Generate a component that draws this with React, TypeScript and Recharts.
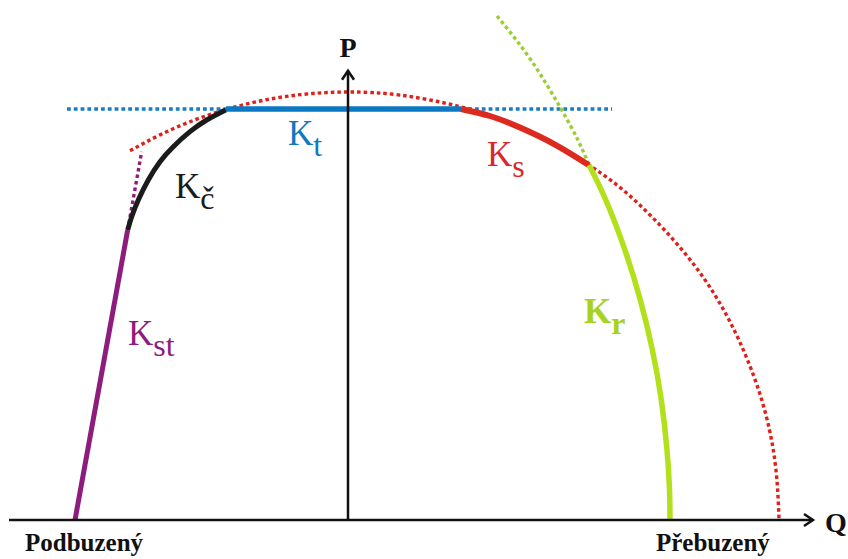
import React from 'react';
import { ComposedChart, Line, Scatter, XAxis, YAxis } from 'recharts';

// Units: Q (reactive power) horizontal, P (active power) vertical, arbitrary units
const Q_DOMAIN: [number, number] = [-87, 125];
const P_DOMAIN: [number, number] = [-9.75, 130];

// Red dotted stator-current circle
const statorCircle = [
  { q: -54.5, p: 92.3 },
  { q: -47, p: 96.28 },
  { q: -37, p: 100.5 },
  { q: -24.5, p: 104.2 },
  { q: -12, p: 106.33 },
  { q: 0, p: 107 },
  { q: 13, p: 106.23 },
  { q: 28, p: 103.33 },
  { q: 43, p: 98.1 },
  { q: 60.25, p: 88.7 },
  { q: 73, p: 78.7 },
  { q: 85.5, p: 65.1 },
  { q: 95.5, p: 49.55 },
  { q: 103, p: 31.43 },
  { q: 106.75, p: 14.55 },
  { q: 107.75, p: 0 },
];

// Ks – stator limit (solid red)
const statorLimit = [
  { q: 28.25, p: 102.75 },
  { q: 35.5, p: 101 },
  { q: 43, p: 98.1 },
  { q: 51.75, p: 93.85 },
  { q: 60.25, p: 88.7 },
];

// Kt – turbine limit (solid blue) and its dotted extension
const turbineLimit = [
  { q: -30.5, p: 102.75 },
  { q: 28.25, p: 102.75 },
];
const turbineLimitExt = [
  { q: -70.25, p: 102.75 },
  { q: 66, p: 102.75 },
];

// Kč – end-region heating limit (black)
const endRegionLimit = [
  { q: -30.58, p: 102.5 },
  { q: -35.33, p: 100 },
  { q: -39.5, p: 97.08 },
  { q: -43.68, p: 93.33 },
  { q: -47, p: 89.58 },
  { q: -49.93, p: 85 },
  { q: -52.43, p: 80 },
  { q: -54.08, p: 75.83 },
  { q: -55.08, p: 72.5 },
];

// Kst – stability limit (purple) and dotted extension
const stabilityLimit = [
  { q: -68.25, p: 0 },
  { q: -55.08, p: 72.5 },
];
const stabilityLimitExt = [
  { q: -55.08, p: 72.5 },
  { q: -51.58, p: 92.08 },
];

// Kr – rotor limit (green) and dotted extension
const rotorLimit = [
  { q: 60.25, p: 88.75 },
  { q: 64.45, p: 80 },
  { q: 69.23, p: 67.5 },
  { q: 73.08, p: 55 },
  { q: 76.1, p: 42.5 },
  { q: 78.33, p: 30 },
  { q: 79.75, p: 17.5 },
  { q: 80.38, p: 7.5 },
  { q: 80.5, p: 0 },
];
const rotorLimitExt = [
  { q: 37.25, p: 126 },
  { q: 45.73, p: 115 },
  { q: 53.13, p: 103 },
  { q: 57.48, p: 95 },
  { q: 60.25, p: 88.75 },
];

// Axes
const qAxisLine = [
  { q: -84.75, p: 0 },
  { q: 116.25, p: 0 },
];
const pAxisLine = [
  { q: 0, p: 0 },
  { q: 0, p: 112.3 },
];
const arrowTips = [
  { q: 116.25, p: 0, dir: 'right' },
  { q: 0, p: 112.3, dir: 'up' },
];

// Text labels
const curveLabels = [
  { q: -15, p: 93.75, main: 'K', sub: 't', color: '#1078c0', bold: false },
  { q: -43.25, p: 80.5, main: 'K', sub: 'č', color: '#1b1b1b', bold: false },
  { q: 34.75, p: 88.5, main: 'K', sub: 's', color: '#d8282a', bold: false },
  { q: 59, p: 49.25, main: 'K', sub: 'r', color: '#a8d21e', bold: true },
  { q: -55, p: 43.75, main: 'K', sub: 'st', color: '#8e1c7d', bold: false },
];
const axisLabels = [
  { q: 0, p: 115.75, text: 'P', size: 28, anchor: 'middle' },
  { q: 119.25, p: -2.9, text: 'Q', size: 28, anchor: 'start' },
  { q: -80.75, p: -7.75, text: 'Podbuzený', size: 25, anchor: 'start' },
  { q: 77, p: -7.75, text: 'Přebuzený', size: 25, anchor: 'start' },
];

const SERIF = "'Liberation Serif', 'Times New Roman', 'DejaVu Serif', serif";

const renderArrow = (props: any) => {
  const { cx, cy, payload } = props;
  const d =
    payload.dir === 'right'
      ? `M${cx - 9},${cy - 6} L${cx},${cy} L${cx - 9},${cy + 6}`
      : `M${cx - 6},${cy + 9} L${cx},${cy} L${cx + 6},${cy + 9}`;
  return <path d={d} stroke="#111" strokeWidth={2.5} fill="none" strokeLinejoin="miter" />;
};

const renderCurveLabel = (props: any) => {
  const { cx, cy, payload } = props;
  return (
    <text
      x={cx}
      y={cy}
      fill={payload.color}
      style={{ fontFamily: SERIF, fontSize: 35, fontWeight: payload.bold ? 700 : 400 }}
    >
      {payload.main}
      <tspan dy={11} style={{ fontSize: 32 }}>
        {payload.sub}
      </tspan>
    </text>
  );
};

const renderAxisLabel = (props: any) => {
  const { cx, cy, payload } = props;
  return (
    <text
      x={cx}
      y={cy}
      fill="#111"
      textAnchor={payload.anchor}
      style={{ fontFamily: SERIF, fontSize: payload.size, fontWeight: 700 }}
    >
      {payload.text}
    </text>
  );
};

export default function App() {
  return (
    <div style={{ position: 'absolute', left: 0, top: 0, width: 848, height: 559, background: '#fff' }}>
      <ComposedChart width={848} height={559} margin={{ top: 0, right: 0, bottom: 0, left: 0 }}>
        <XAxis type="number" dataKey="q" domain={Q_DOMAIN} allowDataOverflow hide />
        <YAxis type="number" dataKey="p" domain={P_DOMAIN} allowDataOverflow hide />

        <Line data={statorCircle} dataKey="p" type="natural" stroke="#e0201a" strokeWidth={3.4}
          strokeDasharray="3.6 3" dot={false} activeDot={false} isAnimationActive={false} />
        <Line data={turbineLimitExt} dataKey="p" type="linear" stroke="#1a7cc6" strokeWidth={3.4}
          strokeDasharray="3.8 3" dot={false} activeDot={false} isAnimationActive={false} />
        <Line data={stabilityLimitExt} dataKey="p" type="linear" stroke="#8e1c7d" strokeWidth={3.4}
          strokeDasharray="3.6 3" dot={false} activeDot={false} isAnimationActive={false} />
        <Line data={rotorLimitExt} dataKey="p" type="natural" stroke="#9ccc34" strokeWidth={3.4}
          strokeDasharray="3.6 3" dot={false} activeDot={false} isAnimationActive={false} />

        <Line data={turbineLimit} dataKey="p" type="linear" stroke="#0a78c2" strokeWidth={5.5}
          dot={false} activeDot={false} isAnimationActive={false} />
        <Line data={statorLimit} dataKey="p" type="natural" stroke="#dc2a1e" strokeWidth={6}
          dot={false} activeDot={false} isAnimationActive={false} />
        <Line data={endRegionLimit} dataKey="p" type="natural" stroke="#1b1b1b" strokeWidth={5}
          dot={false} activeDot={false} isAnimationActive={false} />
        <Line data={stabilityLimit} dataKey="p" type="linear" stroke="#8e1c7d" strokeWidth={5}
          dot={false} activeDot={false} isAnimationActive={false} />
        <Line data={rotorLimit} dataKey="p" type="natural" stroke="#b2e01a" strokeWidth={5.5}
          dot={false} activeDot={false} isAnimationActive={false} />

        <Line data={qAxisLine} dataKey="p" type="linear" stroke="#111" strokeWidth={2.5}
          dot={false} activeDot={false} isAnimationActive={false} />
        <Line data={pAxisLine} dataKey="p" type="linear" stroke="#111" strokeWidth={2.5}
          dot={false} activeDot={false} isAnimationActive={false} />

        <Scatter data={arrowTips} dataKey="p" shape={renderArrow} isAnimationActive={false} />
        <Scatter data={curveLabels} dataKey="p" shape={renderCurveLabel} isAnimationActive={false} />
        <Scatter data={axisLabels} dataKey="p" shape={renderAxisLabel} isAnimationActive={false} />
      </ComposedChart>
    </div>
  );
}
